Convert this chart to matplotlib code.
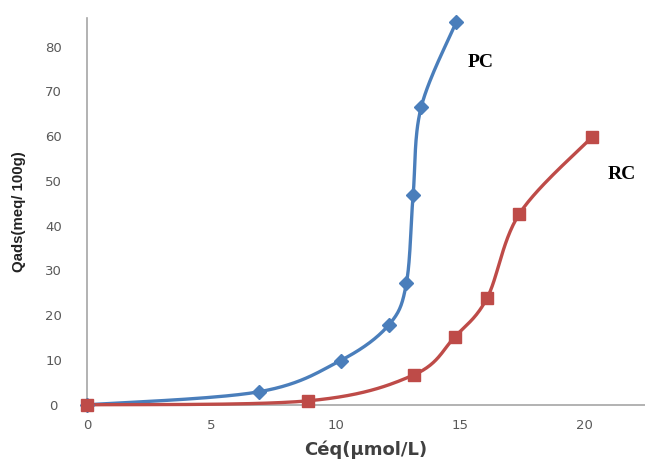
import numpy as np
import matplotlib
matplotlib.use("Agg")
import matplotlib.pyplot as plt

# Data
pc_x = [0, 6.9, 10.2, 12.15, 12.85, 13.12, 13.44, 14.85]
pc_y = [0, 2.9, 9.9, 17.9, 27.2, 46.9, 66.4, 85.4]
rc_x = [0, 8.9, 13.15, 14.8, 16.1, 17.4, 20.3]
rc_y = [0, 0.9, 6.7, 15.2, 23.9, 42.7, 59.7]

x_ticks = [0, 5, 10, 15, 20]
y_ticks = [0, 10, 20, 30, 40, 50, 60, 70, 80]

blue = "#4A7EBB"
red = "#BE4B48"


def smooth(xs, ys, n=30):
    # Excel-like smoothed line: cubic Bezier with Catmull-Rom control points
    p = np.column_stack([xs, ys]).astype(float)
    p = np.vstack([p[0], p, p[-1]])
    out = []
    t = np.linspace(0, 1, n)[:, None]
    for i in range(1, len(p) - 2):
        p0, p1, p2, p3 = p[i - 1], p[i], p[i + 1], p[i + 2]
        c1 = p1 + (p2 - p0) / 6
        c2 = p2 - (p3 - p1) / 6
        seg = ((1 - t) ** 3) * p1 + 3 * ((1 - t) ** 2) * t * c1 + 3 * (1 - t) * t ** 2 * c2 + t ** 3 * p2
        out.append(seg)
    seg = np.vstack(out)
    return seg[:, 0], seg[:, 1]


fig = plt.figure(figsize=(6.45, 4.59), dpi=100)
ax = fig.add_axes([0.135, 0.118, 0.865, 0.843])

sx, sy = smooth(pc_x, pc_y)
ax.plot(sx, sy, color=blue, lw=2.4, solid_capstyle="round", zorder=3)
ax.plot(pc_x, pc_y, ls="none", marker="D", ms=7, color=blue, zorder=4)

sx, sy = smooth(rc_x, rc_y)
ax.plot(sx, sy, color=red, lw=2.4, solid_capstyle="round", zorder=3)
ax.plot(rc_x, rc_y, ls="none", marker="s", ms=9, color=red, zorder=4)

ax.text(15.85, 76.5, "PC", fontfamily="Liberation Serif", fontweight="bold", fontsize=14, ha="center", va="center")
ax.text(21.5, 51.5, "RC", fontfamily="Liberation Serif", fontweight="bold", fontsize=14, ha="center", va="center")

ax.set_xlim(0, 22.45)
ax.set_ylim(0, 86.4)
ax.set_xticks(x_ticks)
ax.set_yticks(y_ticks)
for s in ["top", "right"]:
    ax.spines[s].set_visible(False)
for s in ["left", "bottom"]:
    ax.spines[s].set_color("#A6A6A6")
    ax.spines[s].set_linewidth(1.2)
ax.tick_params(length=0, colors="#595959", labelsize=9.5, pad=10)
ax.tick_params(axis="y", pad=24)
for lab in ax.get_yticklabels():
    lab.set_horizontalalignment("center")

ax.set_xlabel("Céq(µmol/L)", fontsize=13, fontweight="bold", color="#404040", labelpad=6)
ax.set_ylabel("Qads(meq/ 100g)", fontsize=10.8, fontweight="bold",
              fontfamily="Liberation Sans", color="#222222", labelpad=14)
for a in ax.lines:
    a.set_clip_on(False)

fig.savefig("out.png", dpi=100)
